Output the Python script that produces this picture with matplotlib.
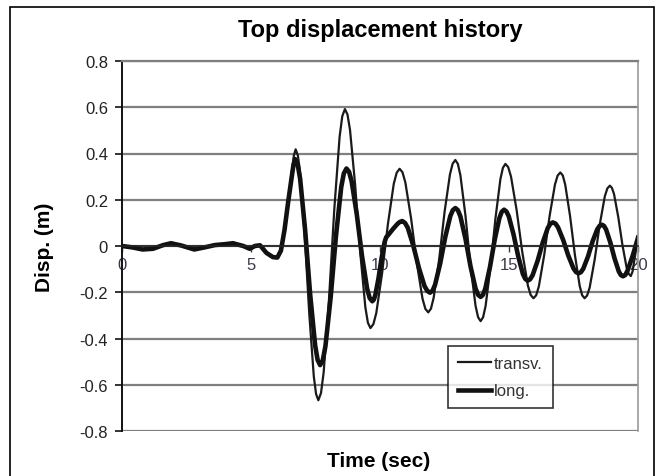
import matplotlib.pyplot as plt
from matplotlib.patches import Rectangle

plt.rcParams['font.family'] = ['Liberation Sans', 'DejaVu Sans']
plt.rcParams['axes.unicode_minus'] = False

# quiet part before the strong motion (both directions nearly the same)
t_early = [0, 0.4, 0.8, 1.2, 1.6, 1.9, 2.3, 2.8, 3.2, 3.6, 4.0, 4.3, 4.7, 4.95,
           5.15, 5.35, 5.6, 5.85, 6.02, 6.16, 6.3, 6.44]
d_early = [0, -0.006, -0.015, -0.012, 0.004, 0.012, 0.002, -0.015, -0.006, 0.004,
           0.008, 0.012, 0.0, -0.012, 0.0, 0.003, -0.03, -0.048, -0.05, -0.02,
           0.07, 0.19]

t_transv = [6.58, 6.66, 6.73, 6.818, 6.906, 7.082, 7.258, 7.434, 7.522, 7.61,
            7.713, 7.816, 8.022, 8.228, 8.434, 8.537, 8.64, 8.739, 8.838, 9.036,
            9.234, 9.432, 9.531, 9.63, 9.743, 9.856, 10.082, 10.308, 10.534, 10.647,
            10.76, 10.871, 10.982, 11.204, 11.426, 11.648, 11.759, 11.87, 11.975,
            12.08, 12.29, 12.5, 12.71, 12.815, 12.92, 13.018, 13.116, 13.312, 13.508,
            13.704, 13.802, 13.9, 13.996, 14.092, 14.284, 14.476, 14.668, 14.764,
            14.86, 14.969, 15.078, 15.296, 15.514, 15.732, 15.841, 15.95, 16.054,
            16.158, 16.366, 16.574, 16.782, 16.886, 16.99, 17.084, 17.178, 17.366,
            17.554, 17.742, 17.836, 17.93, 18.028, 18.126, 18.322, 18.518, 18.714,
            18.812, 18.91, 18.991, 19.072, 19.234, 19.396, 19.558, 19.639, 19.72,
            19.79, 19.86, 20.0]
d_transv = [0.32, 0.39, 0.418, 0.391, 0.315, 0.044, -0.293, -0.564, -0.640, -0.667,
            -0.636, -0.547, -0.233, 0.158, 0.472, 0.561, 0.592, 0.569, 0.502, 0.265,
            -0.028, -0.265, -0.332, -0.355, -0.338, -0.290, -0.117, 0.096, 0.269,
            0.317, 0.334, 0.319, 0.275, 0.120, -0.073, -0.228, -0.272, -0.287, -0.271,
            -0.224, -0.060, 0.145, 0.309, 0.356, 0.372, 0.355, 0.306, 0.132, -0.085,
            -0.259, -0.308, -0.325, -0.308, -0.260, -0.090, 0.120, 0.290, 0.338,
            0.355, 0.341, 0.300, 0.155, -0.026, -0.171, -0.212, -0.226, -0.213,
            -0.174, -0.038, 0.130, 0.266, 0.305, 0.318, 0.305, 0.266, 0.130, -0.038,
            -0.174, -0.213, -0.226, -0.214, -0.180, -0.058, 0.093, 0.215, 0.249,
            0.261, 0.251, 0.224, 0.126, 0.005, -0.093, -0.120, -0.13, -0.11, -0.06,
            0.035]

t_long = [6.58, 6.645, 6.71, 6.807, 6.904, 7.098, 7.292, 7.486, 7.583, 7.68, 7.782,
          7.884, 8.088, 8.292, 8.496, 8.598, 8.7, 8.8, 8.9, 9.1, 9.3, 9.5, 9.6, 9.7,
          9.76, 9.82, 9.94, 10.06, 10.18, 10.24, 10.3, 10.5, 10.68, 10.77, 10.86,
          10.968, 11.076, 11.292, 11.508, 11.724, 11.832, 11.94, 12.038, 12.136,
          12.332, 12.528, 12.724, 12.822, 12.92, 13.018, 13.116, 13.312, 13.508,
          13.704, 13.802, 13.9, 13.991, 14.082, 14.264, 14.446, 14.628, 14.719,
          14.81, 14.901, 14.992, 15.174, 15.356, 15.538, 15.629, 15.72, 15.818,
          15.916, 16.112, 16.308, 16.504, 16.602, 16.7, 16.8, 16.9, 17.1, 17.3,
          17.5, 17.6, 17.7, 17.79, 17.88, 18.06, 18.24, 18.42, 18.51, 18.6, 18.682,
          18.764, 18.928, 19.092, 19.256, 19.338, 19.42, 19.51, 19.6, 19.8, 20.0]
d_long = [0.30, 0.35, 0.376, 0.354, 0.291, 0.069, -0.208, -0.430, -0.493, -0.515,
          -0.494, -0.434, -0.222, 0.042, 0.254, 0.314, 0.335, 0.321, 0.280, 0.137,
          -0.041, -0.184, -0.225, -0.239, -0.232, -0.212, -0.141, -0.053, 0.018,
          0.038, 0.045, 0.073, 0.096, 0.104, 0.108, 0.100, 0.079, 0.001, -0.095,
          -0.173, -0.194, -0.202, -0.193, -0.167, -0.076, 0.038, 0.129, 0.155, 0.164,
          0.155, 0.128, 0.032, -0.088, -0.184, -0.211, -0.22, -0.211, -0.184,
          -0.090, 0.027, 0.121, 0.148, 0.157, 0.149, 0.128, 0.051, -0.044, -0.121,
          -0.142, -0.15, -0.144, -0.126, -0.063, 0.015, 0.078, 0.096, 0.102, 0.097,
          0.081, 0.026, -0.042, -0.097, -0.113, -0.118, -0.113, -0.098, -0.046,
          0.020, 0.072, 0.087, 0.092, 0.087, 0.071, 0.015, -0.054, -0.110, -0.126,
          -0.131, -0.125, -0.105, -0.04, 0.036]

x_ticks = [0, 5, 10, 15, 20]
y_ticks = [-0.8, -0.6, -0.4, -0.2, 0, 0.2, 0.4, 0.6, 0.8]
y_tick_labels = ['-0.8', '-0.6', '-0.4', '-0.2', '0', '0.2', '0.4', '0.6', '0.8']

fig = plt.figure(figsize=(6.6, 4.77), dpi=100)
ax = fig.add_axes([122 / 660, 1 - 432 / 477, 516 / 660, 370 / 477])

# chart area border
fig.patches.append(Rectangle((10 / 660, -0.05), 644 / 660, 1 - 8 / 477 + 0.05,
                             transform=fig.transFigure, fill=False,
                             edgecolor='black', linewidth=1.2))

ax.plot(t_early + t_transv, d_early + d_transv, color='#1a1a1a', linewidth=1.6,
        label='transv.', solid_joinstyle='round')
ax.plot(t_early + t_long, d_early + d_long, color='#111111', linewidth=3.3,
        label='long.', solid_joinstyle='round')

ax.set_xlim(0, 20)
ax.set_ylim(-0.8, 0.8)
ax.set_yticks(y_ticks)
ax.set_yticklabels(y_tick_labels)
ax.set_xticks(x_ticks)
ax.yaxis.grid(True, color='#7f7f7f', linewidth=1.6)
ax.set_axisbelow(True)

ax.spines['bottom'].set_position(('data', 0))
ax.spines['bottom'].set_color('#222222')
ax.spines['bottom'].set_linewidth(1.2)
ax.spines['left'].set_color('#111111')
ax.spines['left'].set_linewidth(1.4)
ax.spines['top'].set_color('#7f7f7f')
ax.spines['top'].set_linewidth(1.6)
ax.spines['right'].set_color('#9a9a9a')
ax.spines['right'].set_linewidth(1.2)

ax.tick_params(axis='y', direction='out', length=5, width=1.2, labelsize=12,
               pad=5, colors='#111111')
ax.tick_params(axis='x', direction='out', length=4, width=1, labelsize=12,
               pad=4, colors='#3a3a4a')
ax.tick_params(axis='y', labelcolor='#222222')

fig.text(380 / 660, 1 - 30 / 477, 'Top displacement history', fontsize=17,
         fontweight='bold', ha='center', va='center')
fig.text(45 / 660, 1 - 247 / 477, 'Disp. (m)', fontsize=15, fontweight='bold',
         ha='center', va='center', rotation=90)
fig.text(379 / 660, 1 - 462 / 477, 'Time (sec)', fontsize=15, fontweight='bold',
         ha='center', va='center')

leg = ax.legend(loc='upper left', bbox_to_anchor=(0.632, 0.23), fontsize=12,
                frameon=True, fancybox=False, handlelength=2.0,
                handletextpad=0.15, borderpad=0.6, labelspacing=0.75,
                borderaxespad=0)
leg.get_frame().set_edgecolor('black')
leg.get_frame().set_linewidth(1.2)
for text in leg.get_texts():
    text.set_color('#333333')

fig.savefig('out.png', dpi=100)
